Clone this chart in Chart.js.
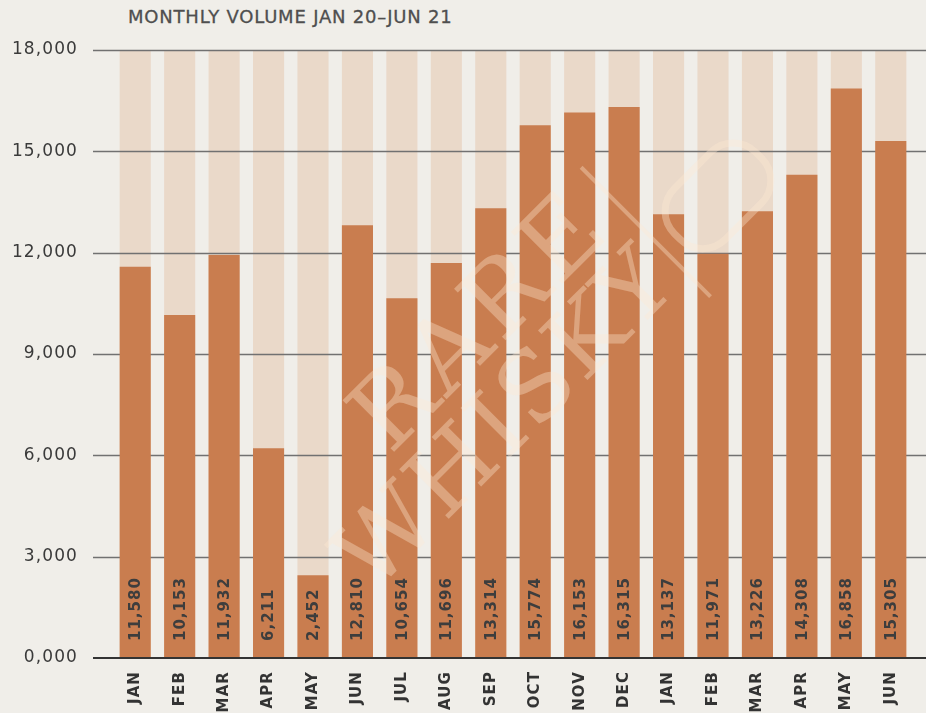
<!DOCTYPE html>
<html>
<head>
<meta charset="utf-8">
<script src="https://cdn.jsdelivr.net/npm/chart.js@4.4.1/dist/chart.umd.min.js"></script>
<style>
    html, body { margin: 0; padding: 0; background: #f0eee9; }
    #wrap { position: relative; width: 926px; height: 713px; }
    #title {
        position: absolute; left: 128px; top: 6px;
        font-family: "DejaVu Sans", sans-serif; font-size: 18px;
        letter-spacing: 0.8px; color: #4f4f4f; -webkit-text-stroke: 0.3px #4f4f4f;
    }
    canvas { position: absolute; left: 0; top: 0; }
</style>
</head>
<body>
<div id="wrap">
    <div id="title">MONTHLY VOLUME JAN 20–JUN 21</div>
    <canvas id="volChart" width="926" height="713"></canvas>
</div>
<script>
// datos
var months = ['JAN', 'FEB', 'MAR', 'APR', 'MAY', 'JUN', 'JUL', 'AUG', 'SEP', 'OCT', 'NOV', 'DEC',
              'JAN', 'FEB', 'MAR', 'APR', 'MAY', 'JUN'];
var volumes = [11580, 10153, 11932, 6211, 2452, 12810, 10654, 11696, 13314, 15774, 16153, 16315,
               13137, 11971, 13226, 14308, 16858, 15305];
var trackMax = [18000, 18000, 18000, 18000, 18000, 18000, 18000, 18000, 18000, 18000, 18000, 18000,
                18000, 18000, 18000, 18000, 18000, 18000];
var yTicks = [0, 3000, 6000, 9000, 12000, 15000, 18000];
var yTickLabels = ['0,000', '3,000', '6,000', '9,000', '12,000', '15,000', '18,000'];

var FONT = '"DejaVu Sans", sans-serif';

// espaciado de letras para los textos del canvas
var spacingPlugin = {
    id: 'spacing',
    beforeDraw: function(chart) { chart.ctx.letterSpacing = '1.1px'; },
    afterDraw: function(chart) { chart.ctx.letterSpacing = '0px'; }
};

// líneas de la cuadrícula, por encima de las barras claras
var gridPlugin = {
    id: 'gridLines',
    afterDatasetDraw: function(chart, args) {
        if (args.index !== 1) return;
        var ctx = chart.ctx;
        var y = chart.scales.y;
        ctx.save();
        yTicks.forEach(function(v) {
            if (v === 0) return;
            var py = Math.round(y.getPixelForValue(v)) + 0.5;
            ctx.strokeStyle = '#717171';
            ctx.lineWidth = 1.5;
            ctx.beginPath();
            ctx.moveTo(93, py);
            ctx.lineTo(chart.width, py);
            ctx.stroke();
        });
        ctx.restore();
    }
};

// línea base, marca de agua y valores dentro de las barras
var labelPlugin = {
    id: 'barLabels',
    afterDatasetsDraw: function(chart) {
        var ctx = chart.ctx;
        var area = chart.chartArea;
        var y = chart.scales.y;
        var base = y.getPixelForValue(0);
        ctx.save();

        // marca de agua
        ctx.save();
        ctx.beginPath();
        ctx.rect(0, area.top, chart.width, area.bottom - area.top);
        ctx.clip();
        var wm = 'rgba(255, 232, 212, 0.36)';
        ctx.fillStyle = wm;
        ctx.strokeStyle = wm;
        ctx.textAlign = 'center';
        ctx.textBaseline = 'alphabetic';
        ctx.translate(480, 315);
        ctx.rotate(-45 * Math.PI / 180);
        ctx.font = '100px "DejaVu Serif", serif';
        ctx.letterSpacing = '5px';
        ctx.fillText('RARE', -5, 36);
        ctx.font = '96px "DejaVu Serif", serif';
        ctx.letterSpacing = '3px';
        ctx.fillText('WHISKY', -55, 122);
        ctx.lineWidth = 4;
        ctx.beginPath();
        ctx.moveTo(176, -33);
        ctx.lineTo(176, 150);
        ctx.stroke();
        ctx.lineWidth = 7;
        ctx.beginPath();
        ctx.roundRect(195, 48, 115, 72, 32);
        ctx.stroke();
        ctx.restore();

        ctx.strokeStyle = '#333';
        ctx.lineWidth = 2;
        ctx.beginPath();
        ctx.moveTo(93, base);
        ctx.lineTo(chart.width, base);
        ctx.stroke();

        var meta = chart.getDatasetMeta(0);
        ctx.fillStyle = '#3d3d3d';
        ctx.font = 'bold 15px ' + FONT;
        ctx.letterSpacing = '1px';
        ctx.textAlign = 'left';
        ctx.textBaseline = 'middle';
        meta.data.forEach(function(bar, i) {
            ctx.save();
            ctx.translate(bar.x, base - 17);
            ctx.rotate(-Math.PI / 2);
            ctx.fillText(volumes[i].toLocaleString('en-US'), 0, 1);
            ctx.restore();
        });
        ctx.restore();
    }
};

new Chart(document.getElementById('volChart'), {
    type: 'bar',
    data: {
        labels: months,
        datasets: [{
            label: 'Volume',
            data: volumes,
            backgroundColor: '#c97d4f',
            barPercentage: 0.7,
            categoryPercentage: 1,
            order: 1
        }, {
            label: 'Track',
            data: trackMax,
            backgroundColor: '#ead9c9',
            barPercentage: 0.7,
            categoryPercentage: 1,
            order: 2
        }]
    },
    options: {
        responsive: false,
        animation: false,
        layout: { padding: { top: 50, right: 13, bottom: 0, left: 0 } },
        plugins: {
            legend: { display: false },
            tooltip: { enabled: false }
        },
        scales: {
            x: {
                stacked: true,
                grid: { display: false },
                border: { display: false },
                ticks: {
                    color: '#333',
                    font: { family: FONT, size: 15, weight: 'bold' },
                    minRotation: 90,
                    maxRotation: 90,
                    padding: 5,
                    autoSkip: false
                },
                afterFit: function(scale) { scale.height = 55; }
            },
            y: {
                min: 0,
                max: 18000,
                grid: { display: false },
                border: { display: false },
                afterBuildTicks: function(scale) {
                    scale.ticks = yTicks.map(function(v) { return { value: v }; });
                },
                ticks: {
                    color: '#3a3a3a',
                    font: { family: FONT, size: 17 },
                    padding: 27,
                    callback: function(value) {
                        return yTickLabels[yTicks.indexOf(value)];
                    }
                },
                afterFit: function(scale) { scale.width = 113; }
            }
        }
    },
    plugins: [spacingPlugin, gridPlugin, labelPlugin]
});
</script>
</body>
</html>
